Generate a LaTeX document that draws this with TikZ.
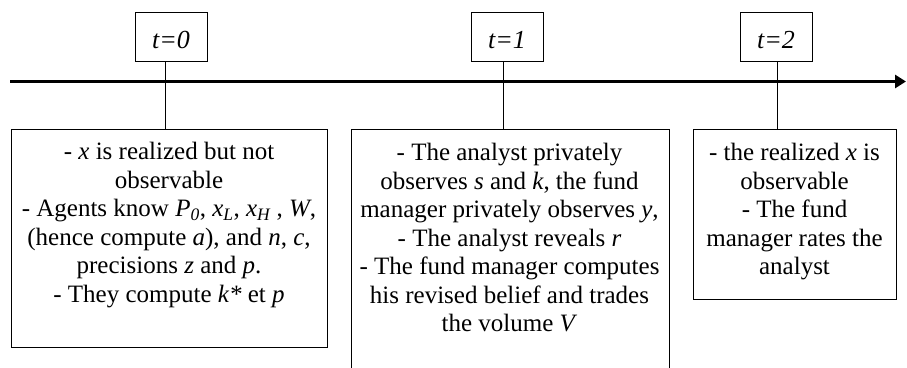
\documentclass[tikz,border=0pt]{standalone}
\usepackage{fontspec}
\setmainfont{Liberation Serif}
\usetikzlibrary{arrows.meta}
\begin{document}
\begin{tikzpicture}[x=1pt,y=-1pt,
  tbox/.style={draw,line width=1pt,minimum width=72pt,minimum height=49pt,inner sep=0pt,
    font=\fontsize{26}{28.5}\selectfont\itshape,text height=24pt,text depth=0pt},
  ebox/.style={draw,line width=1pt,inner sep=0pt,anchor=north west},
  etext/.style={align=center,inner sep=0pt,anchor=north,font=\fontsize{25}{28.5}\selectfont},
  link/.style={line width=1pt},
  axis/.style={line width=3pt,-{Triangle[length=11pt,width=13pt]}}]
\useasboundingbox (0,0) rectangle (907,367);
% time axis
\coordinate (axs) at (10,81.5);
\coordinate (axe) at (906,81.5);
\draw[axis] (axs) -- (axe);
% time labels
\node[tbox] (t0) at (171,36.5) {t=0};
\node[tbox] (t1) at (507,36.5) {t=1};
\node[tbox] (t2) at (776,36.5) {t=2};
% event boxes
\node[ebox,minimum width=316pt,minimum height=218pt] (b0) at (11,129) {};
\node[ebox,draw=none,minimum width=317pt,minimum height=238pt] (b1) at (351,129) {};
\draw[link] (b1.south west) -- (b1.north west) -- (b1.north east) -- (b1.south east);
\node[ebox,minimum width=203pt,minimum height=170pt] (b2) at (693,129) {};
% texts
\node[etext] (x0) at (169,142) {- \textit{x} is realized but not\\observable\\- Agents know \textit{P\textsubscript{0}}, \textit{x\textsubscript{L}}, \textit{x\textsubscript{H}} , \textit{W},\\(hence compute \textit{a}), and \textit{n}, \textit{c},\\precisions \textit{z} and \textit{p}.\\- They compute \textit{k*} et \textit{p}};
\node[etext] (x1) at (509.5,143) {- The analyst privately\\observes \textit{s} and \textit{k}, the fund\\manager privately observes \textit{y},\\- The analyst reveals \textit{r}\\- The fund manager computes\\his revised belief and trades\\the volume \textit{V}};
\node[etext] (x2) at (794.5,143) {- the realized \textit{x} is\\observable\\- The fund\\manager rates the\\analyst};
% connectors
\draw[link] ([xshift=-6pt]t0.south) -- ([xshift=-6pt]t0.south |- b0.north);
\draw[link] ([xshift=-4pt]t1.south) -- ([xshift=-4pt]t1.south |- b1.north);
\draw[link] ([xshift=1pt]t2.south) -- ([xshift=1pt]t2.south |- b2.north);
\end{tikzpicture}
\end{document}
